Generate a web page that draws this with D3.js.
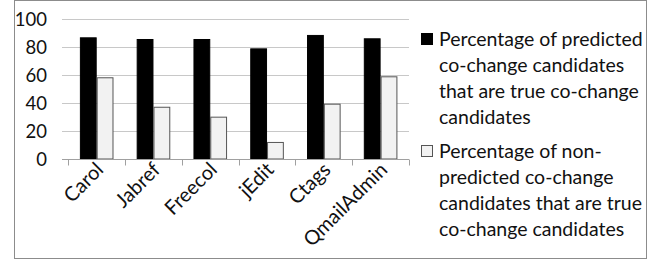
<!DOCTYPE html>
<html><head><meta charset="utf-8">
<script src="https://cdn.jsdelivr.net/npm/d3@7"></script>
<style>body{margin:0;background:#fff}svg{display:block}</style>
</head><body>
<script>
const categories = ["Carol","Jabref","Freecol","jEdit","Ctags","QmailAdmin"];
const predicted = [87.1, 85.9, 85.9, 79.2, 88.8, 86.4];
const nonPredicted = [58.5, 37.4, 30.3, 12.2, 39.6, 59.2];
const yTicks = [0,20,40,60,80,100];
const seriesNames = [
  ["Percentage of predicted","co-change candidates","that are true co-change","candidates"],
  ["Percentage of non-","predicted co-change","candidates that are true","co-change candidates"]
];

const W=667,H=262;
const svg=d3.select("body").append("svg").attr("width",W).attr("height",H);
const font="Lato, 'Open Sans', sans-serif";
svg.append("rect").attr("x",14.5).attr("y",0.5).attr("width",632).attr("height",258).attr("fill","#fff").attr("stroke","#8c8c8c");

const x=d3.scaleBand().domain(categories).range([68.3,409]);
const y=d3.scaleLinear().domain([0,100]).range([159,19.3]);
const barW=16.8;

const g=svg.append("g");
g.selectAll(".grid").data(yTicks.filter(d=>d>0)).join("line")
  .attr("x1",62).attr("x2",409).attr("y1",d=>Math.round(y(d))+0.5).attr("y2",d=>Math.round(y(d))+0.5)
  .attr("stroke","#c8c8c8");
g.selectAll(".yl").data(yTicks).join("text")
  .attr("x",47).attr("y",d=>y(d)+6.5).attr("text-anchor","end")
  .attr("font-family",font).attr("font-size",18.5).attr("fill","#111").text(d=>d);

const series=[{vals:predicted,fill:"#000",stroke:"#000",off:0},{vals:nonPredicted,fill:"#f2f2f2",stroke:"#555",off:1}];
series.forEach(s=>{
  g.selectAll(null).data(categories).join("rect")
   .attr("x",(d,i)=>x(d)+x.bandwidth()/2-barW+s.off*barW+0.5)
   .attr("y",(d,i)=>y(s.vals[i])+0.5)
   .attr("width",barW-1).attr("height",(d,i)=>y(0)-y(s.vals[i])-0.5)
   .attr("fill",s.fill).attr("stroke",s.stroke).attr("stroke-width",1);
});

const xa=Math.round(y(0))+0.5;
g.append("line").attr("x1",62).attr("x2",409).attr("y1",xa).attr("y2",xa).attr("stroke","#a0a0a0");
const bounds=categories.map(c=>x(c)).concat([x.range()[1]]);
g.selectAll(".xt").data(bounds).join("line")
  .attr("x1",d=>Math.round(d)+0.5).attr("x2",d=>Math.round(d)+0.5).attr("y1",xa).attr("y2",xa+6).attr("stroke","#a0a0a0");
g.selectAll(".xl").data(categories).join("text")
  .attr("transform",d=>`translate(${x(d)+x.bandwidth()/2+8},${171}) rotate(-45)`)
  .attr("text-anchor","end").attr("font-family",font).attr("font-size",20).attr("fill","#111").text(d=>d);

const leg=[{y:33,fill:"#000",stroke:"#000",lines:seriesNames[0],ty:46},{y:145,fill:"#f2f2f2",stroke:"#555",lines:seriesNames[1],ty:158}];
leg.forEach(l=>{
  svg.append("rect").attr("x",421.5).attr("y",l.y+0.5).attr("width",11).attr("height",11).attr("fill",l.fill).attr("stroke",l.stroke);
  l.lines.forEach((t,i)=>{
    svg.append("text").attr("x",439).attr("y",l.ty+i*26).attr("font-family",font).attr("font-size",19.5).attr("fill","#111").text(t);
  });
});
</script>
</body></html>
